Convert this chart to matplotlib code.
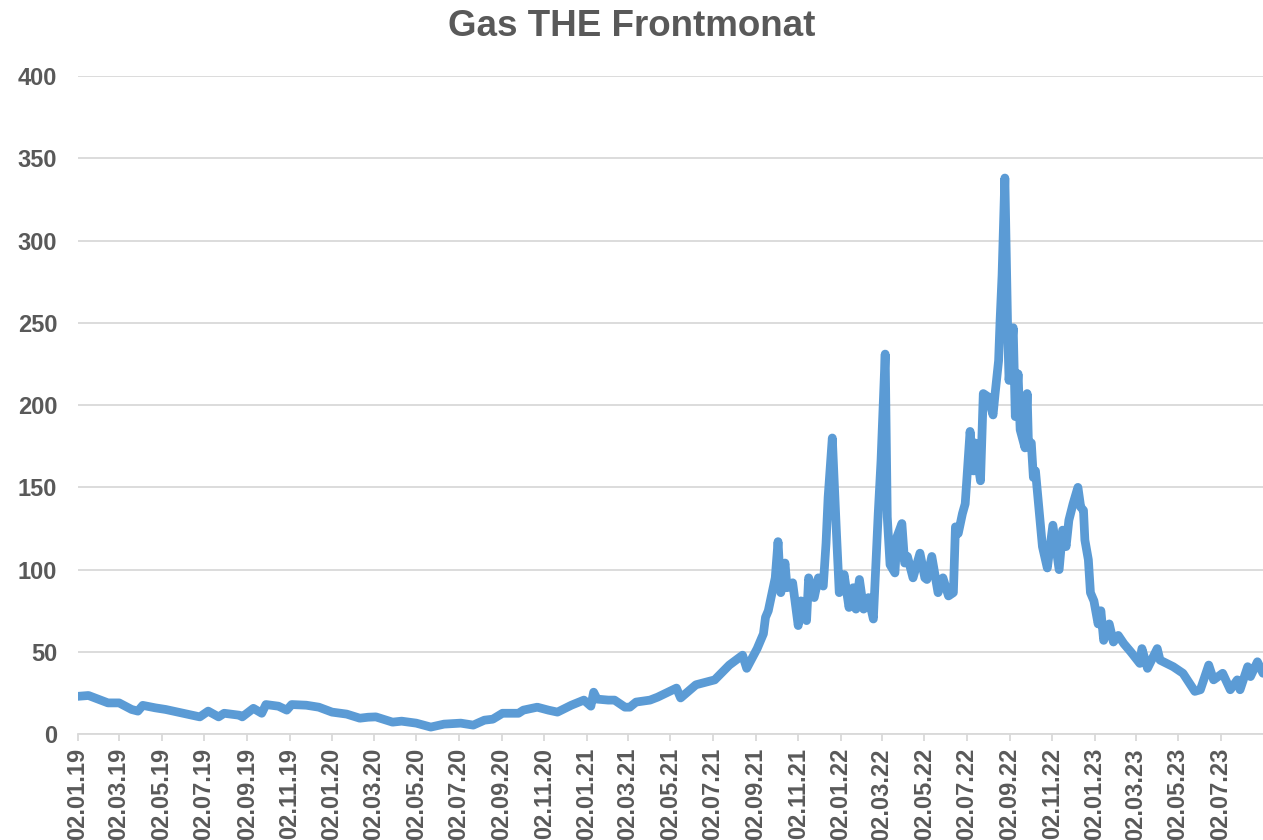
import pandas as pd
import matplotlib
matplotlib.use("Agg")
import matplotlib.pyplot as plt
import matplotlib.dates as mdates

# Gas THE front month price (EUR/MWh)
dates = [
    "2019-01-02", "2019-01-17", "2019-02-14", "2019-03-02", "2019-03-20", "2019-03-29",
    "2019-04-05", "2019-04-23", "2019-05-08", "2019-06-02", "2019-06-26", "2019-07-08",
    "2019-07-23", "2019-07-31", "2019-08-22", "2019-08-26", "2019-09-11", "2019-09-23",
    "2019-09-29", "2019-10-17", "2019-10-29", "2019-11-05", "2019-11-26", "2019-12-14",
    "2020-01-02", "2020-01-23", "2020-02-11", "2020-02-23", "2020-03-05", "2020-03-29",
    "2020-04-11", "2020-05-02", "2020-05-23", "2020-06-11", "2020-07-05", "2020-07-23",
    "2020-08-08", "2020-08-20", "2020-09-03", "2020-09-26", "2020-10-03", "2020-10-23",
    "2020-11-08", "2020-11-21", "2020-12-11", "2020-12-29", "2021-01-08", "2021-01-12",
    "2021-01-17", "2021-02-02", "2021-02-11", "2021-02-26", "2021-03-05", "2021-03-14",
    "2021-04-03", "2021-04-14", "2021-05-11", "2021-05-17", "2021-06-08", "2021-07-05",
    "2021-07-26", "2021-08-14", "2021-08-20", "2021-09-04", "2021-09-13", "2021-09-16",
    "2021-09-20", "2021-09-27", "2021-09-30", "2021-10-04", "2021-10-08", "2021-10-14",
    "2021-10-17", "2021-10-25", "2021-11-02", "2021-11-06", "2021-11-14", "2021-11-17",
    "2021-11-25", "2021-12-01", "2021-12-08", "2021-12-12", "2021-12-15", "2021-12-21",
    "2021-12-27", "2021-12-31", "2022-01-07", "2022-01-14", "2022-01-20", "2022-01-24",
    "2022-01-29", "2022-02-04", "2022-02-11", "2022-02-18", "2022-02-25", "2022-03-01",
    "2022-03-07", "2022-03-10", "2022-03-14", "2022-03-21", "2022-03-24", "2022-03-31",
    "2022-04-04", "2022-04-08", "2022-04-16", "2022-04-26", "2022-05-03", "2022-05-06",
    "2022-05-13", "2022-05-22", "2022-05-29", "2022-06-06", "2022-06-13", "2022-06-16",
    "2022-06-20", "2022-06-26", "2022-06-30", "2022-07-07", "2022-07-12", "2022-07-14",
    "2022-07-22", "2022-07-26", "2022-08-02", "2022-08-09", "2022-08-12", "2022-08-17",
    "2022-08-19", "2022-08-22", "2022-08-26", "2022-08-30", "2022-09-01", "2022-09-07",
    "2022-09-10", "2022-09-14", "2022-09-17", "2022-09-24", "2022-09-27", "2022-09-29",
    "2022-10-03", "2022-10-06", "2022-10-09", "2022-10-19", "2022-10-26", "2022-11-03",
    "2022-11-12", "2022-11-17", "2022-11-22", "2022-11-26", "2022-12-02", "2022-12-09",
    "2022-12-13", "2022-12-17", "2022-12-19", "2022-12-24", "2022-12-27", "2023-01-01",
    "2023-01-07", "2023-01-11", "2023-01-15", "2023-01-23", "2023-01-29", "2023-02-05",
    "2023-02-13", "2023-02-23", "2023-03-08", "2023-03-11", "2023-03-19", "2023-04-02",
    "2023-04-06", "2023-04-25", "2023-05-09", "2023-05-26", "2023-06-03", "2023-06-15",
    "2023-06-22", "2023-07-05", "2023-07-16", "2023-07-26", "2023-07-30", "2023-08-10",
    "2023-08-14", "2023-08-24", "2023-09-01",
]
prices = [
    23, 23.5, 19, 19, 15, 14,
    17.5, 16, 15, 12.7, 10.5, 14,
    10.5, 12.7, 11.5, 10.5, 15.7, 12.7,
    18, 17, 14.6, 18, 17.6, 16.4,
    13.4, 12.2, 9.7, 10.3, 10.5, 7.3,
    7.9, 6.7, 4.3, 6.1, 6.7, 5.5,
    8.5, 9.1, 12.7, 12.7, 14.6, 16.4,
    14.6, 13.4, 17.6, 20.7, 17, 25.5,
    21.3, 20.7, 20.7, 16.4, 16.4, 19.5,
    20.7, 22.5, 28, 22, 30, 33,
    42, 48, 40, 52, 61, 71,
    75, 89, 95, 117, 86, 104,
    89, 92, 66, 81, 69, 95,
    83, 95, 90, 116, 144, 180,
    122, 86, 97, 77, 89, 76,
    94, 76, 83, 70, 134, 166,
    231, 132, 103, 98, 120, 128,
    104, 108, 95, 110, 95, 94,
    108, 86, 95, 84, 86, 126,
    122, 134, 140, 184, 160, 177,
    154, 207, 205, 194, 207, 227,
    250, 279, 338, 246, 215, 247,
    193, 219, 185, 174, 207, 175,
    177, 156, 160, 114, 101, 127,
    100, 124, 114, 130, 140, 150,
    138, 136, 118, 106, 86, 81,
    67, 75, 57, 67, 56, 60,
    55, 50, 43, 52, 40, 52,
    45, 41, 37, 26, 27, 42,
    33, 37, 27, 33, 27, 41,
    35, 44, 37,
]
title = "Gas THE Frontmonat"
y_ticks = [0, 50, 100, 150, 200, 250, 300, 350, 400]

x = pd.to_datetime(dates)
# ticks on the 2nd of every other month, Jan 2019 .. Jul 2023
x_ticks = pd.date_range("2019-01-01", "2023-07-01", freq="2MS") + pd.Timedelta(days=1)

text_grey = "#595959"
grid_grey = "#D9D9D9"
plt.rcParams["font.family"] = ["Liberation Sans", "DejaVu Sans"]

fig = plt.figure(figsize=(12.63, 8.40), dpi=100)
ax = fig.add_axes([0.0618, 0.126, 0.9382, 0.7835])

ax.plot(x, prices, color="#5B9BD5", linewidth=6.3, solid_joinstyle="round",
        solid_capstyle="round", zorder=3)

ax.set_ylim(0, 400)
ax.set_yticks(y_ticks)
ax.set_xlim(x[0], x[-1])
ax.set_xticks(x_ticks)
ax.xaxis.set_major_formatter(mdates.DateFormatter("%d.%m.%y"))

ax.grid(axis="y", color=grid_grey, linewidth=1.3, zorder=0)
for side in ["top", "right", "left"]:
    ax.spines[side].set_visible(False)
ax.spines["bottom"].set_color(grid_grey)
ax.spines["bottom"].set_linewidth(1.3)

ax.tick_params(axis="y", length=0, pad=15, labelsize=17, labelcolor=text_grey)
ax.tick_params(axis="x", length=5, width=1.3, color=grid_grey, pad=5,
               labelsize=17, labelcolor=text_grey, labelrotation=90)
for lab in ax.get_xticklabels() + ax.get_yticklabels():
    lab.set_fontweight("bold")

fig.text(0.5, 0.969, title, ha="center", va="center", fontsize=26.5,
         fontweight="bold", color=text_grey)

fig.savefig("out.png", dpi=100)
